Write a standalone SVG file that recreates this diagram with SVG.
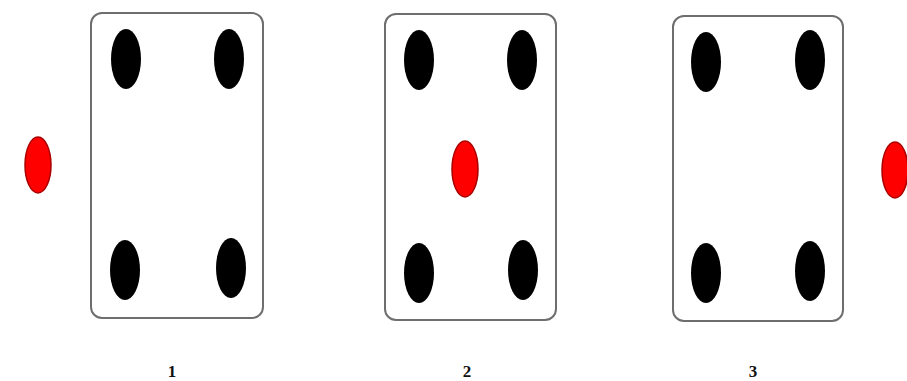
<svg xmlns="http://www.w3.org/2000/svg" width="907" height="381" viewBox="0 0 907 381">
<style>
.card{fill:#fff;stroke:#6e6e6e;stroke-width:2}
.dot{fill:#000}
.red{fill:#f00;stroke:#a00;stroke-width:1.5}
.lbl{font-family:"Liberation Serif",serif;font-weight:bold;font-size:17px;fill:#111;text-anchor:middle}
</style>
<rect width="907" height="381" fill="#fff"/>
<g id="panel1">
<rect class="card" x="91" y="13" width="172" height="305" rx="11"/>
<ellipse class="dot" cx="126" cy="59" rx="15" ry="30"/>
<ellipse class="dot" cx="229" cy="59" rx="15" ry="30"/>
<ellipse class="dot" cx="125" cy="270" rx="15" ry="30"/>
<ellipse class="dot" cx="231" cy="268" rx="15" ry="30"/>
</g>
<g id="red1"><ellipse class="red" cx="38" cy="165" rx="13" ry="28"/></g>
<g id="panel2">
<rect class="card" x="385" y="14" width="171" height="306" rx="11"/>
<ellipse class="dot" cx="419" cy="60" rx="15" ry="30"/>
<ellipse class="dot" cx="522" cy="60" rx="15" ry="30"/>
<ellipse class="red" cx="465" cy="169" rx="13" ry="28"/>
<ellipse class="dot" cx="419" cy="273" rx="15" ry="30"/>
<ellipse class="dot" cx="523" cy="270" rx="15" ry="30"/>
</g>
<g id="panel3">
<rect class="card" x="673" y="16" width="170" height="305" rx="11"/>
<ellipse class="dot" cx="706" cy="62" rx="15" ry="30"/>
<ellipse class="dot" cx="810" cy="60" rx="15" ry="30"/>
<ellipse class="dot" cx="706" cy="273" rx="15" ry="30"/>
<ellipse class="dot" cx="810" cy="271" rx="15" ry="30"/>
</g>
<g id="red3"><ellipse class="red" cx="895" cy="170" rx="13" ry="28"/></g>
<g id="labels">
<text class="lbl" x="172" y="377">1</text>
<text class="lbl" x="467" y="377">2</text>
<text class="lbl" x="753" y="377">3</text>
</g>
<g id="connectors"/>
</svg>
